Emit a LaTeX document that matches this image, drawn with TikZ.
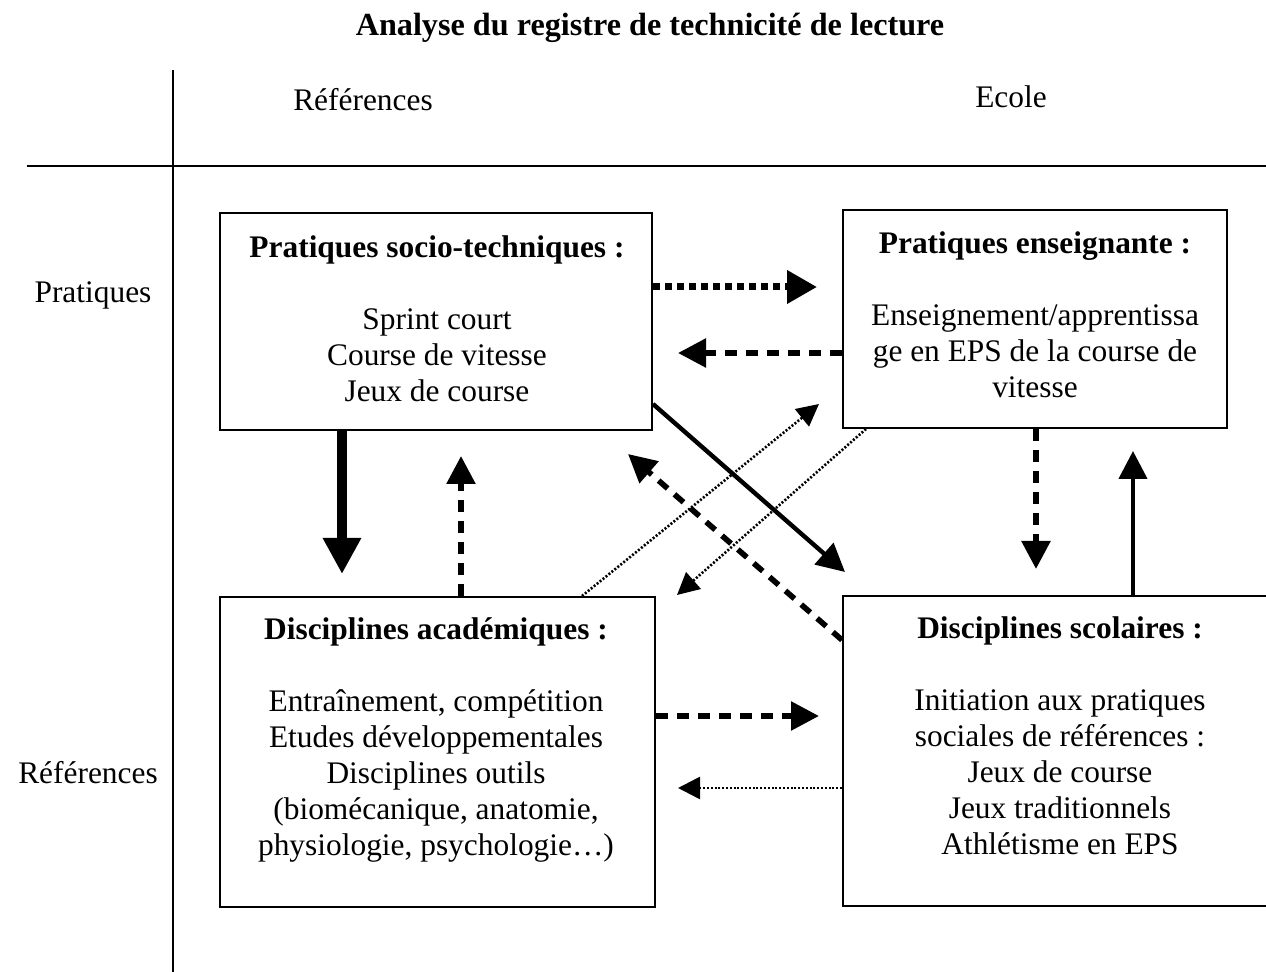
\documentclass[tikz,border=0pt]{standalone}
\usepackage{fontspec}
\setmainfont{Liberation Serif}
\usetikzlibrary{arrows.meta, positioning, calc}
\tikzset{
  box/.style      = {draw, line width=1pt, inner sep=0pt},
  boxtext/.style  = {align=center, font=\fontsize{15.7}{18}\selectfont, inner sep=0pt},
  head/.style     = {font=\fontsize{15.7}{18}\selectfont, inner sep=0pt},
  axis/.style     = {line width=1pt},
  % arrow families
  bigtip/.style   = {-{Triangle[length=15pt, width=16pt]}},
  midtip/.style   = {-{Triangle[length=14pt, width=14pt]}},
  smalltip/.style = {-{Triangle[length=11pt, width=11pt]}},
  strong/.style   = {line width=5pt, -{Triangle[length=18pt, width=18pt]}},
  plain/.style    = {line width=2.2pt, midtip},
  dashline/.style = {line width=2.8pt, dash pattern=on 6pt off 4.5pt, midtip},
  dotbold/.style  = {line width=3.5pt, dash pattern=on 3.5pt off 2.5pt, bigtip},
  dotfine/.style  = {line width=1.3pt, dash pattern=on 1pt off 0.9pt, smalltip}
}
\begin{document}
\begin{tikzpicture}[x=0.5pt, y=-0.5pt]
\useasboundingbox (0,0) rectangle (1266,972);
\clip (0,0) rectangle (1266,972);

% title and grid
\node[head, font=\fontsize{16.1}{18}\selectfont\bfseries] (title) at (650,28)
  {Analyse du registre de technicit\'e de lecture};
\coordinate (vtop) at (173,70);
\coordinate (vbot) at (173,972);
\coordinate (hleft) at (27,166);
\coordinate (hright) at (1266,166);
\draw[axis] (vtop) -- (vbot);
\draw[axis] (hleft) -- (hright);

\node[head] (colref) at (363,100) {R\'ef\'erences};
\node[head] (colecole) at (1011,97) {Ecole};
\node[head] (rowprat) at (93,295) {Pratiques};
\node[head] (rowref) at (88,773) {R\'ef\'erences};

% the four boxes
\node[box, minimum width=432pt*0.5, minimum height=217pt*0.5] (soc) at (436,321.5) {};
\node[box, minimum width=384pt*0.5, minimum height=218pt*0.5] (ens) at (1035,319) {};
\node[box, minimum width=435pt*0.5, minimum height=310pt*0.5] (aca) at (437.5,752) {};
\node[box, minimum width=434pt*0.5, minimum height=310pt*0.5] (sco) at (1060,751) {};

\node[boxtext] (soctxt) at (437,318.5)
  {\textbf{Pratiques socio-techniques :}\\[18pt]
   Sprint court\\Course de vitesse\\Jeux de course};
\node[boxtext] (enstxt) at (1035,315)
  {\textbf{Pratiques enseignante :}\\[18pt]
   Enseignement/apprentissa\\ge en EPS de la course de\\vitesse};
\node[boxtext] (acatxt) at (436,739.5)
  {\textbf{Disciplines acad\'emiques :}\\[18pt]
   Entra\^inement, comp\'etition\\Etudes d\'eveloppementales\\Disciplines outils\\
   (biom\'ecanique, anatomie,\\physiologie, psychologie\ldots)};
\node[boxtext] (scotxt) at (1060,735.5)
  {\textbf{Disciplines scolaires :}\\[18pt]
   Initiation aux pratiques\\sociales de r\'ef\'erences :\\Jeux de course\\
   Jeux traditionnels\\Athl\'etisme en EPS};

% free ends of the diagonals
\coordinate (d1end) at (845,572);
\coordinate (d2end) at (819,404);
\coordinate (d3end) at (677,595);
\coordinate (d4end) at (628,454);

% horizontal links
\draw[dotbold, shorten >=12.5pt] (soc.east |- 0,287) -- (ens.west |- 0,287);
\draw[dashline, shorten >=12.5pt] (ens.west |- 0,353) -- (soc.east |- 0,353);
\draw[dashline, shorten >=11.5pt] (aca.east |- 0,716) -- (sco.west |- 0,716);
\draw[dotfine, shorten >=11pt] (sco.west |- 0,788) -- (aca.east |- 0,788);

% vertical links
\draw[strong, shorten >=11pt] (soc.south -| 342,0) -- (aca.north -| 342,0);
\draw[dashline, shorten >=12.5pt] (aca.north -| 461,0) -- (soc.south -| 461,0);
\draw[dashline, shorten >=13pt] (ens.south -| 1036,0) -- (sco.north -| 1036,0);
\draw[plain, shorten >=11pt] (sco.north -| 1133,0) -- (ens.south -| 1133,0);

% diagonal links
\draw[plain] (soc.east |- 0,404) -- (d1end);
\draw[dotfine] (aca.north -| 582,0) -- (d2end);
\draw[dotfine] (ens.south -| 866,0) -- (d3end);
\draw[dashline] (sco.west |- 0,640) -- (d4end);
\end{tikzpicture}
\end{document}
